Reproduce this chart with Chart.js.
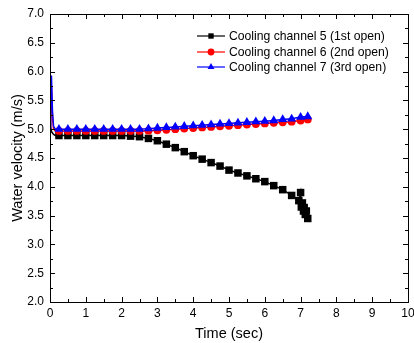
<!DOCTYPE html>
<html>
<head>
<meta charset="utf-8">
<script src="https://cdn.jsdelivr.net/npm/chart.js@4.4.1/dist/chart.umd.min.js"></script>
<style>
  html, body { margin: 0; padding: 0; background: #fff; }
  #wrap { width: 414px; height: 343px; }
</style>
</head>
<body>
<div id="wrap"><canvas id="velChart" width="414" height="343"></canvas></div>
<script>
// time (sec) / water velocity (m/s)
const ch5Time = [0, 0.05, 0.1, 0.15, 0.25, 0.5, 0.75, 1.0, 1.25, 1.5, 1.75, 2.0, 2.25, 2.5, 2.75, 3.0, 3.25, 3.5, 3.75, 4.0, 4.25, 4.5, 4.75, 5.0, 5.25, 5.5, 5.75, 6.0, 6.25, 6.5, 6.75, 6.95, 7.0, 7.02, 7.05, 7.08, 7.1, 7.13, 7.16, 7.2];
const ch5Vel  = [5.05, 4.95, 4.91, 4.89, 4.89, 4.89, 4.89, 4.89, 4.89, 4.89, 4.89, 4.89, 4.88, 4.87, 4.84, 4.8, 4.74, 4.68, 4.61, 4.54, 4.48, 4.42, 4.36, 4.29, 4.24, 4.19, 4.14, 4.09, 4.02, 3.95, 3.85, 3.76, 3.9, 3.65, 3.72, 3.58, 3.64, 3.52, 3.58, 3.45];

const ch6Time = [0, 0.02, 0.04, 0.07, 0.1, 0.15, 0.25, 0.5, 0.75, 1.0, 1.25, 1.5, 1.75, 2.0, 2.25, 2.5, 2.75, 3.0, 3.25, 3.5, 3.75, 4.0, 4.25, 4.5, 4.75, 5.0, 5.25, 5.5, 5.75, 6.0, 6.25, 6.5, 6.75, 7.0, 7.2];
const ch6Vel  = [5.0, 5.4, 5.75, 5.2, 5.0, 4.97, 4.97, 4.97, 4.97, 4.97, 4.97, 4.97, 4.97, 4.97, 4.97, 4.97, 4.975, 4.98, 4.99, 5.0, 5.01, 5.02, 5.03, 5.04, 5.05, 5.06, 5.07, 5.08, 5.09, 5.1, 5.11, 5.12, 5.13, 5.15, 5.17];

const ch7Time = [0, 0.02, 0.04, 0.07, 0.1, 0.15, 0.25, 0.5, 0.75, 1.0, 1.25, 1.5, 1.75, 2.0, 2.25, 2.5, 2.75, 3.0, 3.25, 3.5, 3.75, 4.0, 4.25, 4.5, 4.75, 5.0, 5.25, 5.5, 5.75, 6.0, 6.25, 6.5, 6.75, 7.0, 7.2];
const ch7Vel  = [5.0, 5.5, 5.93, 5.3, 5.05, 5.0, 5.0, 5.0, 5.0, 5.0, 5.0, 5.0, 5.0, 5.0, 5.0, 5.0, 5.01, 5.02, 5.03, 5.04, 5.05, 5.06, 5.07, 5.08, 5.09, 5.1, 5.11, 5.12, 5.13, 5.14, 5.15, 5.17, 5.18, 5.21, 5.22];

const seriesNames = ['Cooling channel 5 (1st open)', 'Cooling channel 6 (2nd open)', 'Cooling channel 7 (3rd open)'];

const FONT = 'Arial, "Liberation Sans", sans-serif';

function toPoints(xs, ys) {
  return xs.map((x, i) => ({ x: x, y: ys[i] }));
}

// no markers on the start-up spike
function markerSize(r) {
  return (ctx) => (ctx.raw && ctx.raw.x < 0.2) ? 0 : r;
}

// frame + inward ticks, like the original plot
const frameTicks = {
  id: 'frameTicks',
  afterDraw(chart) {
    const { ctx, chartArea: a, scales } = chart;
    ctx.save();
    ctx.strokeStyle = '#000';
    ctx.lineWidth = 1;
    ctx.strokeRect(a.left + 0.5, a.top + 0.5, a.right - a.left, a.bottom - a.top);
    ctx.beginPath();
    for (let v = 2; v <= 7.001; v += 0.25) {
      const y = Math.round(scales.y.getPixelForValue(v)) + 0.5;
      const len = (Math.abs(v * 2 - Math.round(v * 2)) < 0.01) ? 5 : 3;
      ctx.moveTo(a.left, y); ctx.lineTo(a.left + len, y);
      ctx.moveTo(a.right, y); ctx.lineTo(a.right - len, y);
    }
    for (let v = 0; v <= 10.001; v += 0.5) {
      const x = Math.round(scales.x.getPixelForValue(v)) + 0.5;
      const len = (Math.abs(v - Math.round(v)) < 0.01) ? 5 : 3;
      ctx.moveTo(x, a.bottom); ctx.lineTo(x, a.bottom - len);
      ctx.moveTo(x, a.top); ctx.lineTo(x, a.top + len);
    }
    ctx.stroke();
    ctx.restore();
  }
};

// legend with line + marker sample
const lineLegend = {
  id: 'lineLegend',
  afterDraw(chart) {
    const { ctx, chartArea: a } = chart;
    const x0 = a.right - 211;
    const rows = [36, 52, 67];
    ctx.save();
    ctx.font = '12.2px ' + FONT;
    ctx.textBaseline = 'middle';
    chart.data.datasets.forEach((ds, i) => {
      const y = rows[i];
      ctx.strokeStyle = ds.borderColor;
      ctx.lineWidth = 1.2;
      ctx.beginPath();
      ctx.moveTo(x0, y); ctx.lineTo(x0 + 28, y);
      ctx.stroke();
      ctx.fillStyle = ds.borderColor;
      Chart.helpers.drawPoint(ctx, { pointStyle: ds.pointStyle, radius: ds.legendRadius, borderWidth: 0 }, x0 + 14, y);
      ctx.fillStyle = '#000';
      ctx.fillText(ds.label, x0 + 32, y + 0.5);
    });
    ctx.restore();
  }
};

new Chart(document.getElementById('velChart').getContext('2d'), {
  type: 'line',
  data: {
    datasets: [
      {
        label: seriesNames[0],
        data: toPoints(ch5Time, ch5Vel),
        borderColor: '#000000',
        backgroundColor: '#000000',
        borderWidth: 1.5,
        pointStyle: 'rect',
        pointRadius: markerSize(5.3),
        pointBorderWidth: 0,
        legendRadius: 3.8,
        order: 2
      },
      {
        label: seriesNames[1],
        data: toPoints(ch6Time, ch6Vel),
        borderColor: '#ff0000',
        backgroundColor: '#ff0000',
        borderWidth: 1.5,
        pointStyle: 'circle',
        pointRadius: markerSize(3.9),
        pointBorderWidth: 0,
        legendRadius: 3.4,
        order: 1
      },
      {
        label: seriesNames[2],
        data: toPoints(ch7Time, ch7Vel),
        borderColor: '#0000ff',
        backgroundColor: '#0000ff',
        borderWidth: 1.5,
        pointStyle: 'triangle',
        pointRadius: markerSize(5.2),
        pointBorderWidth: 0,
        legendRadius: 4,
        order: 0
      }
    ]
  },
  options: {
    responsive: false,
    animation: false,
    layout: { padding: { top: 14, right: 6, left: 0, bottom: 0 } },
    plugins: {
      legend: { display: false },
      tooltip: { enabled: false }
    },
    elements: { line: { tension: 0 } },
    scales: {
      x: {
        type: 'linear',
        min: 0,
        max: 10,
        grid: { display: false, drawTicks: false },
        border: { display: false },
        ticks: { stepSize: 1, padding: 4, color: '#000', font: { family: FONT, size: 12 }, maxRotation: 0 },
        title: { display: true, text: 'Time (sec)', color: '#000', font: { family: FONT, size: 14.5 }, padding: { top: 3.3, bottom: 0 } },
        afterFit(s) { s.height = 41; s.paddingLeft = 0; s.paddingRight = 0; }
      },
      y: {
        min: 2,
        max: 7,
        grid: { display: false, drawTicks: false },
        border: { display: false },
        ticks: { stepSize: 0.5, padding: 6, color: '#000', font: { family: FONT, size: 12 }, callback: (v) => v.toFixed(1) },
        title: { display: true, text: 'Water velocity (m/s)', color: '#000', font: { family: FONT, size: 14.5 }, padding: { top: 8.8, bottom: 0 } },
        afterFit(s) { s.width = 50; s.paddingTop = 0; s.paddingBottom = 0; }
      }
    }
  },
  plugins: [frameTicks, lineLegend]
});
</script>
</body>
</html>
